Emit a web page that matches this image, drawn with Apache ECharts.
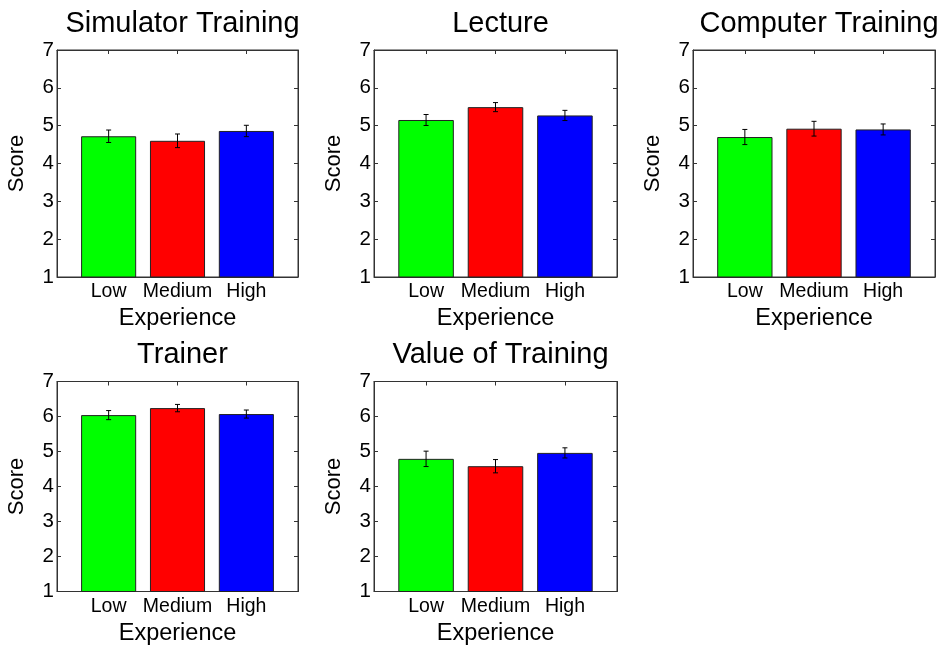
<!DOCTYPE html>
<html>
<head>
<meta charset="utf-8">
<script src="https://cdn.jsdelivr.net/npm/echarts@6/dist/echarts.min.js"></script>
<style>html,body{margin:0;padding:0;background:#fff;}#c{width:940px;height:648px;}</style>
</head>
<body>
<div id="c"></div>
<script>
const categories = ['Low', 'Medium', 'High'];
const panelTitles = ['Simulator Training', 'Lecture', 'Computer Training', 'Trainer', 'Value of Training'];
const yTickLabels = ['1', '2', '3', '4', '5', '6', '7'];
const xAxisName = 'Experience';
const yAxisName = 'Score';

const simulatorMeans = [4.72, 4.60, 4.86];
const simulatorErr   = [0.165, 0.18, 0.15];
const lectureMeans   = [5.15, 5.49, 5.27];
const lectureErr     = [0.145, 0.12, 0.135];
const computerMeans  = [4.70, 4.92, 4.90];
const computerErr    = [0.20, 0.195, 0.145];
const trainerMeans   = [6.04, 6.24, 6.07];
const trainerErr     = [0.13, 0.105, 0.115];
const valueMeans     = [4.79, 4.58, 4.96];
const valueErr       = [0.22, 0.19, 0.145];

const allMeans = [simulatorMeans, lectureMeans, computerMeans, trainerMeans, valueMeans];
const allErr = [simulatorErr, lectureErr, computerErr, trainerErr, valueErr];

const barColors = ['#00ff00', '#ff0000', '#0000ff'];
const FONT = '"Liberation Sans", Arial, sans-serif';
const frameColor = '#333';

const layout = [
  {left: 57, top: 50, width: 241, height: 227, titleTop: 4},
  {left: 374, top: 50, width: 243, height: 227, titleTop: 4},
  {left: 693, top: 50, width: 242, height: 227, titleTop: 4},
  {left: 57, top: 381.5, width: 241, height: 210, titleTop: 335},
  {left: 374, top: 381.5, width: 243, height: 210, titleTop: 335}
];

const yMin = 1, yMax = 7;
const catPos = categories.map((c, i) => i + 1);

const option = {
  animation: false,
  backgroundColor: '#fff',
  title: [], grid: [], xAxis: [], yAxis: [], series: []
};

layout.forEach((L, p) => {
  option.title.push({
    text: panelTitles[p],
    left: L.left + L.width / 2,
    top: L.titleTop,
    textAlign: 'center',
    textStyle: {fontFamily: FONT, fontSize: 29, fontWeight: 'normal', color: '#000'}
  });
  option.grid.push({
    left: L.left, top: L.top, width: L.width, height: L.height,
    show: true, borderColor: frameColor, borderWidth: 1, backgroundColor: '#fff'
  });
  const xBase = {
    type: 'value', gridIndex: p, min: 0.25, max: 3.75,
    splitLine: {show: false},
    axisLine: {show: true, lineStyle: {color: frameColor}},
  };
  option.xAxis.push(Object.assign({}, xBase, {
    position: 'bottom',
    name: xAxisName, nameLocation: 'middle', nameGap: 30,
    nameTextStyle: {fontFamily: FONT, fontSize: 23.5, color: '#000'},
    axisTick: {show: true, inside: true, length: 4, customValues: catPos, lineStyle: {color: frameColor}},
    axisLabel: {show: true, margin: 5, customValues: catPos,
      formatter: v => categories[Math.round(v) - 1] || '',
      fontFamily: FONT, fontSize: 19.5, color: '#000'}
  }));
  option.xAxis.push(Object.assign({}, xBase, {
    position: 'top',
    axisTick: {show: true, inside: true, length: 4, customValues: catPos, lineStyle: {color: frameColor}},
    axisLabel: {show: false}
  }));
  const yBase = {
    type: 'value', gridIndex: p, min: yMin, max: yMax, interval: 1,
    splitLine: {show: false},
    axisLine: {show: true, lineStyle: {color: frameColor}},
    axisTick: {show: true, inside: true, length: 4, lineStyle: {color: frameColor}}
  };
  option.yAxis.push(Object.assign({}, yBase, {
    position: 'left',
    name: yAxisName, nameLocation: 'middle', nameGap: 29, nameRotate: 90,
    nameTextStyle: {fontFamily: FONT, fontSize: 22, color: '#000'},
    axisLabel: {show: true, margin: 3, fontFamily: FONT, fontSize: 20.5, color: '#000',
      formatter: v => yTickLabels[Math.round(v) - yMin] || ''}
  }));
  option.yAxis.push(Object.assign({}, yBase, {
    position: 'right',
    axisLabel: {show: false}
  }));

  const means = allMeans[p], errs = allErr[p];
  option.series.push({
    type: 'bar',
    xAxisIndex: 2 * p, yAxisIndex: 2 * p,
    barWidth: '80%',
    data: means.map((m, i) => ({
      value: [catPos[i], m],
      itemStyle: {color: barColors[i], borderColor: '#222', borderWidth: 1}
    })),
    z: 2
  });
  option.series.push({
    type: 'custom',
    xAxisIndex: 2 * p, yAxisIndex: 2 * p,
    data: means.map((m, i) => [catPos[i], m - errs[i], m + errs[i]]),
    encode: {x: 0, y: [1, 2]},
    z: 5,
    renderItem: function (params, api) {
      const x = api.value(0);
      const lo = api.coord([x, api.value(1)]);
      const hi = api.coord([x, api.value(2)]);
      const hw = 2.5;
      const st = {stroke: '#000', lineWidth: 1};
      return {
        type: 'group',
        children: [
          {type: 'line', shape: {x1: hi[0], y1: hi[1], x2: lo[0], y2: lo[1]}, style: st},
          {type: 'line', shape: {x1: hi[0] - hw, y1: hi[1], x2: hi[0] + hw, y2: hi[1]}, style: st},
          {type: 'line', shape: {x1: lo[0] - hw, y1: lo[1], x2: lo[0] + hw, y2: lo[1]}, style: st}
        ]
      };
    }
  });
});

const chart = echarts.init(document.getElementById('c'), null, {renderer: 'canvas'});
chart.setOption(option);
</script>
</body>
</html>
